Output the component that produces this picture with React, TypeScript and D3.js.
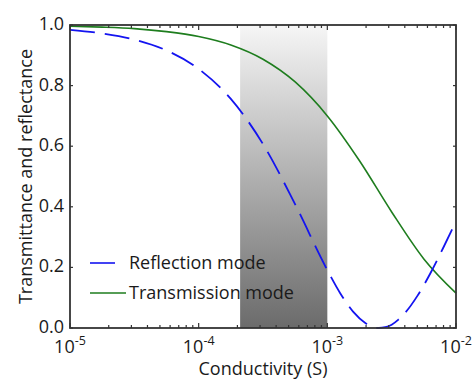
import React, { useRef, useEffect } from "react";
import * as d3 from "d3";

// log10 of conductivity (S) for each sample
const tLog = [-5, -4.75, -4.5, -4.25, -4, -3.75, -3.5, -3.25, -3, -2.75, -2.5, -2.25, -2];
const tVal = [0.996, 0.993, 0.988, 0.978, 0.962, 0.934, 0.887, 0.812, 0.7, 0.552, 0.383, 0.228, 0.115];

const rLog = [-5, -4.75, -4.5, -4.25, -4, -3.75, -3.5, -3.25, -3, -2.9, -2.8, -2.7, -2.65, -2.6, -2.55, -2.5, -2.45, -2.4, -2.3, -2.2, -2.1, -2];
const rVal = [0.984, 0.972, 0.952, 0.916, 0.855, 0.756, 0.607, 0.408, 0.191, 0.115, 0.054, 0.015, 0.004, 0.0, 0.0025, 0.011, 0.027, 0.048, 0.106, 0.18, 0.264, 0.352];

const yTicks = [0, 0.2, 0.4, 0.6, 0.8, 1.0];
const xMajor = [1e-5, 1e-4, 1e-3, 1e-2];
const band = [2.1e-4, 1e-3];

const legend = [
  { label: "Reflection mode", color: "#1414f0", dash: true },
  { label: "Transmission mode", color: "#1e7d1e", dash: false },
];

function App() {
  const svgRef = useRef<SVGSVGElement>(null);

  useEffect(() => {
    if (!svgRef.current) return;
    const svg = d3.select(svgRef.current);
    svg.selectAll("*").remove();
    const width = 476;
    const height = 379;
    const m = { left: 70, right: 20, top: 25, bottom: 51 };
    const font = "'Open Sans', sans-serif";
    const fs = 18;
    const txt = "#1a1a1a";

    const x = d3.scaleLog().domain([1e-5, 1e-2]).range([m.left, width - m.right]);
    const y = d3.scaleLinear().domain([0, 1]).range([height - m.bottom, m.top]);

    const defs = svg.append("defs");
    const grad = defs
      .append("linearGradient")
      .attr("id", "bandGrad")
      .attr("x1", 0)
      .attr("y1", 0)
      .attr("x2", 0)
      .attr("y2", 1);
    grad.append("stop").attr("offset", "0%").attr("stop-color", "#f6f6f6");
    grad.append("stop").attr("offset", "100%").attr("stop-color", "#6b6b6b");

    // shaded region
    svg
      .append("rect")
      .attr("x", x(band[0]))
      .attr("y", y(1))
      .attr("width", x(band[1]) - x(band[0]))
      .attr("height", y(0) - y(1))
      .attr("fill", "url(#bandGrad)");

    const line = d3
      .line<[number, number]>()
      .x((d) => x(Math.pow(10, d[0])))
      .y((d) => y(d[1]))
      .curve(d3.curveMonotoneX);

    svg
      .append("path")
      .attr("d", line(tLog.map((l, i) => [l, tVal[i]] as [number, number])))
      .attr("fill", "none")
      .attr("stroke", legend[1].color)
      .attr("stroke-width", 1.6);

    svg
      .append("path")
      .attr("d", line(rLog.map((l, i) => [l, rVal[i]] as [number, number])))
      .attr("fill", "none")
      .attr("stroke", legend[0].color)
      .attr("stroke-width", 1.8)
      .attr("stroke-dasharray", "25,10");

    // frame
    const axisColor = "#333";
    svg
      .append("rect")
      .attr("x", x(1e-5))
      .attr("y", y(1))
      .attr("width", x(1e-2) - x(1e-5))
      .attr("height", y(0) - y(1))
      .attr("fill", "none")
      .attr("stroke", axisColor)
      .attr("stroke-width", 1.8);

    // x ticks (log, inward, top and bottom)
    const minor: number[] = [];
    for (let e = -5; e < -2; e++) for (let k = 2; k <= 9; k++) minor.push(k * Math.pow(10, e));
    const tickG = svg.append("g").attr("stroke", axisColor).attr("stroke-width", 1.2);
    minor.forEach((v) => {
      tickG.append("line").attr("x1", x(v)).attr("x2", x(v)).attr("y1", y(0)).attr("y2", y(0) - 3);
      tickG.append("line").attr("x1", x(v)).attr("x2", x(v)).attr("y1", y(1)).attr("y2", y(1) + 3);
    });
    xMajor.forEach((v) => {
      tickG.append("line").attr("x1", x(v)).attr("x2", x(v)).attr("y1", y(0)).attr("y2", y(0) - 5);
      tickG.append("line").attr("x1", x(v)).attr("x2", x(v)).attr("y1", y(1)).attr("y2", y(1) + 5);
    });
    yTicks.forEach((v) => {
      tickG.append("line").attr("x1", x(1e-5)).attr("x2", x(1e-5) + 3).attr("y1", y(v)).attr("y2", y(v));
      tickG.append("line").attr("x1", x(1e-2)).attr("x2", x(1e-2) - 3).attr("y1", y(v)).attr("y2", y(v));
    });

    // y tick labels
    svg
      .append("g")
      .selectAll("text")
      .data(yTicks)
      .enter()
      .append("text")
      .attr("x", m.left - 6)
      .attr("y", (d) => y(d) + 5)
      .attr("text-anchor", "end")
      .attr("font-family", font)
      .attr("font-size", fs)
      .attr("fill", txt)
      .text((d) => d.toFixed(1));

    // x tick labels 10^n
    xMajor.forEach((v) => {
      const t = svg
        .append("text")
        .attr("x", x(v))
        .attr("y", y(0) + 25)
        .attr("text-anchor", "middle")
        .attr("font-family", font)
        .attr("font-size", fs)
        .attr("fill", txt);
      t.append("tspan").text("10");
      t.append("tspan")
        .attr("dy", -8)
        .attr("font-size", 12.5)
        .text(String(Math.round(Math.log10(v))));
    });

    // axis titles
    svg
      .append("text")
      .attr("x", (x(1e-5) + x(1e-2)) / 2)
      .attr("y", height - 4)
      .attr("text-anchor", "middle")
      .attr("font-family", font)
      .attr("font-size", fs)
      .attr("fill", txt)
      .text("Conductivity (S)");

    svg
      .append("text")
      .attr("transform", `translate(32,${(y(0) + y(1)) / 2}) rotate(-90)`)
      .attr("text-anchor", "middle")
      .attr("font-family", font)
      .attr("font-size", fs)
      .attr("fill", txt)
      .text("Transmittance and reflectance");

    // legend
    const lg = svg.append("g");
    legend.forEach((d, i) => {
      const ly = 263 + i * 30;
      lg.append("line")
        .attr("x1", 90)
        .attr("x2", d.dash ? 115 : 126)
        .attr("y1", ly)
        .attr("y2", ly)
        .attr("stroke", d.color)
        .attr("stroke-width", 1.6);
      lg.append("text")
        .attr("x", 129)
        .attr("y", ly + 6)
        .attr("font-family", font)
        .attr("font-size", fs)
        .attr("fill", txt)
        .text(d.label);
    });
  }, []);

  return (
    <svg
      ref={svgRef}
      width={476}
      height={379}
      style={{ position: "absolute", left: 0, top: 0, background: "#fff" }}
    ></svg>
  );
}

export default App;
